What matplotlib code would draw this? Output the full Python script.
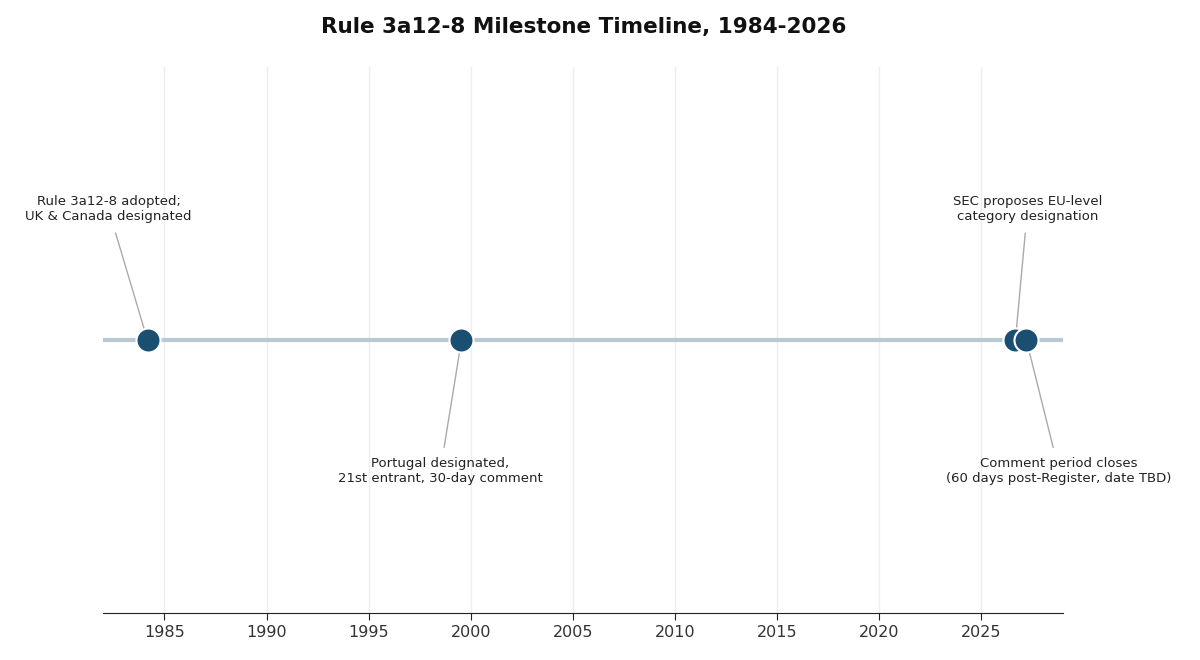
import matplotlib.pyplot as plt

# マイルストーンのデータ
years = [1984.17, 1999.54, 2026.66, 2027.2]
labels = [
    "Rule 3a12-8 adopted;\nUK & Canada designated",
    "Portugal designated,\n21st entrant, 30-day comment",
    "SEC proposes EU-level\ncategory designation",
    "Comment period closes\n(60 days post-Register, date TBD)",
]
label_x = [1982.26, 1998.5, 2027.25, 2028.8]
label_y = [0.48, -0.48, 0.48, -0.48]

fig = plt.figure(figsize=(12, 6.6), dpi=100)
ax = fig.add_axes([0.086, 0.071, 0.8, 0.827])

ax.set_xlim(1982, 2029)
ax.set_ylim(-1, 1)

# 横軸のライン
ax.plot([1982, 2029], [0, 0], color="#b8c8d5", lw=3, zorder=1, solid_capstyle="butt")

for yr, lab, tx, ty in zip(years, labels, label_x, label_y):
    ax.annotate(lab, xy=(yr, 0), xytext=(tx, ty), textcoords="data",
                ha="center", va="center", fontsize=9.5, color="#222222",
                linespacing=1.25,
                arrowprops=dict(arrowstyle="-", color="#aaaaaa", lw=1,
                                shrinkA=5, shrinkB=5),
                zorder=2)

ax.scatter(years, [0] * len(years), s=300, color="#1b4f72",
           edgecolor="white", linewidth=1.5, zorder=3)

ax.set_xticks(range(1985, 2026, 5))
ax.tick_params(axis="x", labelsize=11.5, colors="#333333", length=5)
ax.tick_params(axis="x", color="#222222")
ax.set_yticks([])
ax.grid(axis="x", color="#eeeeee", lw=1)
ax.set_axisbelow(True)
for s in ["left", "right", "top"]:
    ax.spines[s].set_visible(False)
ax.spines["bottom"].set_color("#222222")

fig.suptitle("Rule 3a12-8 Milestone Timeline, 1984-2026", x=0.486, y=0.975,
             fontsize=15.5, fontweight="bold", color="#111111")

fig.savefig("out.png", dpi=100)
